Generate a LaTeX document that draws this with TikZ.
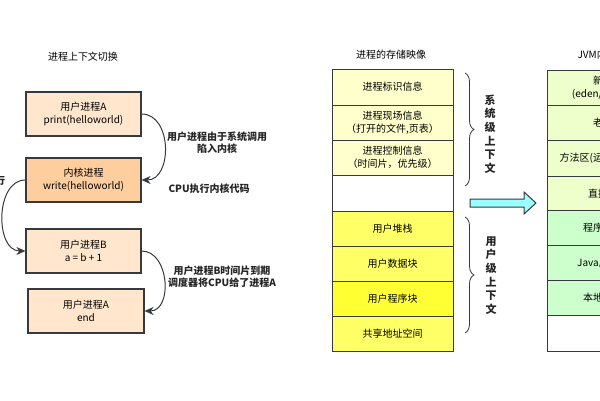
\documentclass[tikz,border=0pt]{standalone}
\usepackage{fontspec}
\setmainfont{Noto Sans CJK SC}
\usepackage{tikz}
\usetikzlibrary{arrows.meta,decorations.pathreplacing}

\definecolor{userfill}{HTML}{FFE6CC}
\definecolor{kernfill}{HTML}{FFCE9F}
\definecolor{edgegray}{HTML}{36393D}
\definecolor{ctxfill}{HTML}{FFFFCC}
\definecolor{ustack}{HTML}{FFFF66}
\definecolor{uprog}{HTML}{FFFF33}
\definecolor{jvmtop}{HTML}{EEFFCC}
\definecolor{jvmlow}{HTML}{CCFFCC}
\definecolor{arrowcyan}{HTML}{99FFFF}

\begin{document}
\begin{tikzpicture}[x=1pt, y=-1pt,
  every node/.style={font=\fontsize{10}{13}\selectfont},
  procbox/.style={draw=edgegray, line width=1.2pt, minimum width=115pt, minimum height=44pt, align=center, inner sep=0pt},
  rowbox/.style={draw=edgegray, line width=1pt, minimum width=121pt, minimum height=35pt, align=center, inner sep=0pt},
  notelab/.style={font=\fontsize{10}{12}\selectfont\bfseries, align=center, text=black!85},
  sidelab/.style={font=\fontsize{11}{13.6}\selectfont\bfseries, align=center, text=black!85},
  swarrow/.style={line width=1pt, edgegray, -{Stealth[length=9pt,width=8pt]}},
] 
\useasboundingbox (0,0) rectangle (600,400);
\clip (0,0) rectangle (600,400);

% Context switch
\node (cstitle) at (83,57) {进程上下文切换};
\node[procbox, fill=userfill] (userA) at (83.5,114) {用户进程A\\print(helloworld)};
\node[procbox, fill=kernfill] (kernel) at (83.5,180) {内核进程\\write(helloworld)};
\node[procbox, fill=userfill] (userB) at (83.5,251) {用户进程B\\a = b + 1};
\node[procbox, fill=userfill, minimum width=116pt] (userAend) at (86,311) {用户进程A\\end};

% Switch arrows
\draw[swarrow] (userA.east) to[out=0, in=0, looseness=1.2] (kernel.east);
\draw[swarrow] (kernel.west) to[out=180, in=180, looseness=1.1] (userB.west);
\draw[swarrow] (userB.east) to[out=0, in=0, looseness=1.2] (userAend.east);

% Annotations
\node[notelab] (trap) at (217,143) {用户进程由于系统调用\\陷入内核};
\node[notelab, anchor=west] (cpukern) at (165,189) {CPU执行内核代码};
\node[notelab] (slice) at (222,277) {用户进程B时间片到期\\调度器将CPU给了进程A};
\node[notelab, inner sep=0pt] (cutlab) at (0,181) {行};

% Process image
\node (imgtitle) at (391,55) {进程的存储映像};
\node[rowbox, fill=ctxfill, minimum height=36pt] (pid) at (392.5,87) {进程标识信息};
\node[rowbox, fill=ctxfill] (pscene) at (392.5,122.5) {进程现场信息\\（打开的文件,页表）};
\node[rowbox, fill=ctxfill] (pctrl) at (392.5,157.5) {进程控制信息\\（时间片，优先级）};
\node[rowbox, fill=white, minimum height=36pt] (pgap) at (392.5,193) {};
\node[rowbox, fill=ustack] (ustk) at (392.5,228.5) {用户堆栈};
\node[rowbox, fill=ustack] (udata) at (392.5,263.5) {用户数据块};
\node[rowbox, fill=uprog] (ucode) at (392.5,298.5) {用户程序块};
\node[rowbox, fill=ustack] (ushare) at (392.5,333.5) {共享地址空间};

% Braces
\draw[edgegray, line width=0.8pt, decorate, decoration={brace, amplitude=9pt}] (465,73) -- (465,186);
\draw[edgegray, line width=0.8pt, decorate, decoration={brace, amplitude=9pt}] (465,217) -- (465,333);
\node[sidelab] (sysctx) at (490,134) {系\\统\\级\\上\\下\\文};
\node[sidelab] (usrctx) at (491,275.5) {用\\户\\级\\上\\下\\文};

% Block arrow
\draw[edgegray, line width=1pt, fill=arrowcyan] (470,199) -- (524,199) -- (524,192) -- (536,203)
  -- (524,214) -- (524,207) -- (470,207) -- cycle;

% JVM memory
\node[anchor=west] (jvmtitle) at (574,55) {JVM内存结构};
\node[rowbox, fill=jvmtop, minimum height=36pt] (young) at (608,88) {新生代\\(eden/survivor)};
\node[rowbox, fill=jvmtop] (old) at (608,123) {老年代};
\node[rowbox, fill=jvmtop, minimum height=36pt] (method) at (608,158) {方法区(运行时常量池)};
\node[rowbox, fill=jvmtop] (direct) at (608,193.5) {直接内存};
\node[rowbox, fill=jvmlow] (pc) at (608,228) {程序计数器};
\node[rowbox, fill=jvmlow] (jstack) at (608,262.5) {Java虚拟机栈};
\node[rowbox, fill=jvmlow] (nstack) at (608,297.5) {本地方法栈};
\node[rowbox, fill=white, minimum height=36pt] (jgap) at (608,333) {};
\end{tikzpicture}
\end{document}
